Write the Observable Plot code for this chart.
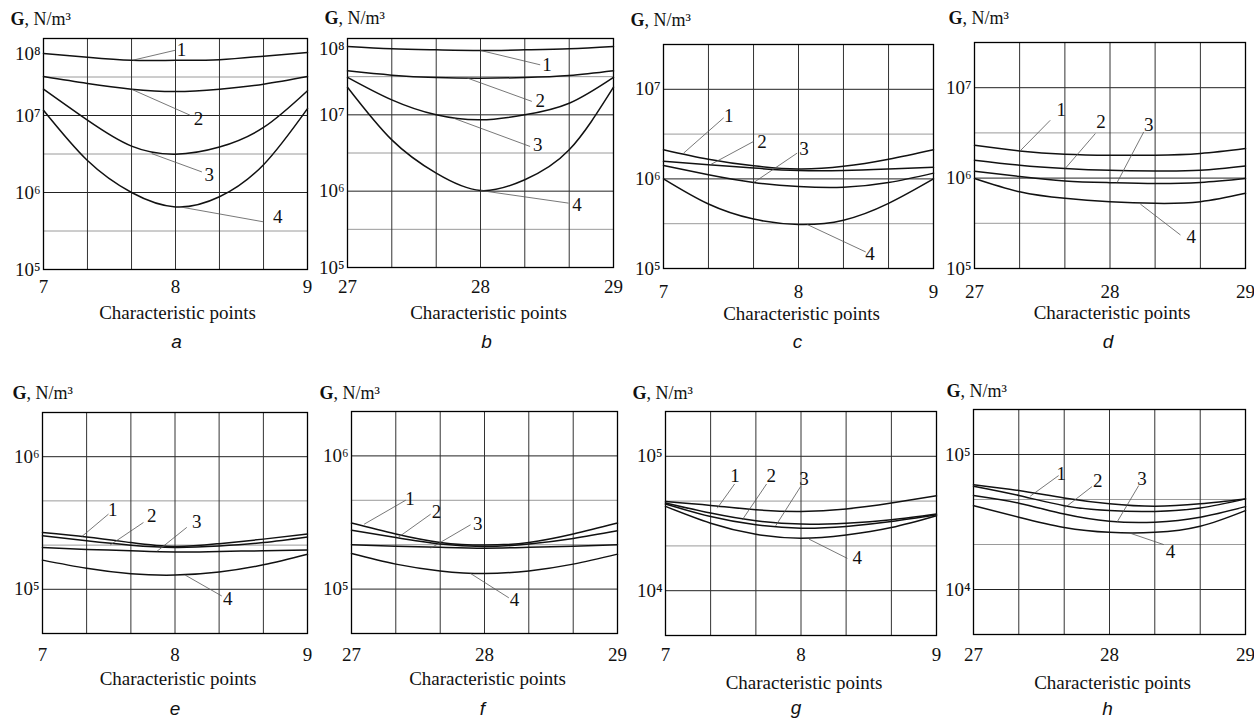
<!DOCTYPE html>
<html>
<head>
<meta charset="utf-8">
<script src="https://cdn.jsdelivr.net/npm/d3@7"></script>
<script src="https://cdn.jsdelivr.net/npm/@observablehq/plot@0.6"></script>
<style>
  html, body { margin: 0; padding: 0; background: #fff; }
  #chart { position: relative; width: 1254px; height: 723px; overflow: hidden; background: #fff; }
  #chart svg { position: absolute; }
</style>
</head>
<body>
<div id="chart"></div>
<script>
// ---------- data ----------
const xPointsLow  = [7, 7.333, 7.667, 8, 8.333, 8.667, 9];
const xPointsHigh = [27, 27.333, 27.667, 28, 28.333, 28.667, 29];
const xTicksLow  = [7, 8, 9];
const xTicksHigh = [27, 28, 29];
const seriesLabels = ["1", "2", "3", "4"];
const panelLetters = ["a", "b", "c", "d", "e", "f", "g", "h"];
const xAxisTitle = "Characteristic points";
const yAxisTitle = ["G", ", N/m³"];

// G values (N/m³) for curves 1..4 at the characteristic points
const G_a = [
  [6.4e7, 5.7e7, 5.2e7, 5.2e7, 5.3e7, 5.9e7, 6.6e7],
  [3.2e7, 2.6e7, 2.2e7, 2.05e7, 2.2e7, 2.55e7, 3.2e7],
  [2.2e7, 8.7e6, 4.0e6, 3.15e6, 3.9e6, 7.0e6, 2.1e7],
  [1.17e7, 2.6e6, 1.0e6, 6.5e5, 8.8e5, 2.3e6, 1.23e7]
];
const G_b = [
  [7.85e7, 7.33e7, 7.1e7, 6.97e7, 7.1e7, 7.33e7, 7.85e7],
  [3.77e7, 3.31e7, 3.08e7, 3.02e7, 3.08e7, 3.27e7, 3.77e7],
  [3.1e7, 1.57e7, 1.0e7, 8.6e6, 1.0e7, 1.42e7, 3.1e7],
  [2.3e7, 4.7e6, 1.72e6, 1.02e6, 1.41e6, 3.48e6, 2.3e7]
];
const G_c = [
  [2.12e6, 1.66e6, 1.40e6, 1.29e6, 1.38e6, 1.66e6, 2.12e6],
  [1.57e6, 1.44e6, 1.32e6, 1.24e6, 1.24e6, 1.29e6, 1.35e6],
  [1.41e6, 1.11e6, 9.1e5, 8.2e5, 8.05e5, 9.1e5, 1.16e6],
  [1.0e6, 5.24e5, 3.56e5, 3.1e5, 3.46e5, 5.33e5, 1.0e6]
];
const G_d = [
  [2.31e6, 2.0e6, 1.84e6, 1.79e6, 1.79e6, 1.87e6, 2.12e6],
  [1.58e6, 1.39e6, 1.28e6, 1.22e6, 1.20e6, 1.22e6, 1.36e6],
  [1.19e6, 1.04e6, 9.3e5, 8.9e5, 8.7e5, 8.95e5, 9.9e5],
  [9.9e5, 7.06e5, 5.97e5, 5.48e5, 5.26e5, 5.48e5, 6.78e5]
];
const G_e = [
  [2.68e5, 2.48e5, 2.25e5, 2.10e5, 2.21e5, 2.39e5, 2.61e5],
  [2.53e5, 2.32e5, 2.15e5, 2.07e5, 2.12e5, 2.25e5, 2.48e5],
  [2.07e5, 2.0e5, 1.95e5, 1.91e5, 1.93e5, 1.95e5, 1.98e5],
  [1.66e5, 1.44e5, 1.31e5, 1.28e5, 1.35e5, 1.53e5, 1.84e5]
];
const G_f = [
  [3.13e5, 2.59e5, 2.24e5, 2.14e5, 2.24e5, 2.59e5, 3.13e5],
  [2.77e5, 2.44e5, 2.18e5, 2.09e5, 2.18e5, 2.40e5, 2.74e5],
  [2.15e5, 2.10e5, 2.06e5, 2.03e5, 2.06e5, 2.10e5, 2.15e5],
  [1.85e5, 1.54e5, 1.37e5, 1.31e5, 1.37e5, 1.54e5, 1.83e5]
];
const G_g = [
  [4.61e4, 4.31e4, 4.0e4, 3.89e4, 4.06e4, 4.49e4, 5.08e4],
  [4.49e4, 3.78e4, 3.31e4, 3.13e4, 3.18e4, 3.37e4, 3.72e4],
  [4.41e4, 3.56e4, 3.09e4, 2.92e4, 3.01e4, 3.27e4, 3.67e4],
  [4.24e4, 3.18e4, 2.63e4, 2.46e4, 2.60e4, 2.95e4, 3.61e4]
];
const G_h = [
  [5.98e4, 5.41e4, 4.76e4, 4.31e4, 4.13e4, 4.31e4, 4.69e4],
  [5.82e4, 4.97e4, 4.18e4, 3.84e4, 3.79e4, 4.02e4, 4.69e4],
  [4.97e4, 4.36e4, 3.62e4, 3.20e4, 3.15e4, 3.43e4, 4.11e4],
  [4.18e4, 3.43e4, 2.88e4, 2.65e4, 2.65e4, 2.94e4, 3.84e4]
];

// curve-number callouts: [x on curve, G on curve, x at end, G at end, x of number, G of number]
const L_a = [
  [7.68, 5.24e7, 8.0, 7.05e7, 8.045, 7.05e7],
  [7.67, 2.18e7, 8.11, 1.01e7, 8.175, 9.1e6],
  [7.82, 3.2e6, 8.2, 1.85e6, 8.255, 1.68e6],
  [8.035, 6.5e5, 8.667, 4.16e5, 8.775, 4.83e5]
];
const L_b = [
  [28.0, 6.97e7, 28.449, 4.52e7, 28.5, 4.52e7],
  [27.897, 3.05e7, 28.386, 1.5e7, 28.45, 1.54e7],
  [27.797, 9.04e6, 28.373, 3.85e6, 28.43, 4.05e6],
  [28.0, 1.02e6, 28.662, 6.97e5, 28.725, 6.62e5]
];
const L_c = [
  [7.149, 1.94e6, 7.446, 4.81e6, 7.483, 5.1e6],
  [7.347, 1.44e6, 7.668, 2.62e6, 7.73, 2.62e6],
  [7.668, 9.1e5, 7.99, 1.94e6, 8.04, 2.15e6],
  [8.064, 3.1e5, 8.498, 1.53e5, 8.53, 1.46e5]
];
const L_d = [
  [27.337, 2.0e6, 27.559, 4.36e6, 27.64, 5.62e6],
  [27.67, 1.28e6, 27.892, 3.11e6, 27.933, 4.18e6],
  [28.052, 8.9e5, 28.249, 3.24e6, 28.286, 3.85e6],
  [28.224, 5.16e5, 28.52, 2.35e5, 28.599, 2.25e5]
];
const L_e = [
  [7.297, 2.5e5, 7.498, 3.69e5, 7.531, 3.98e5],
  [7.511, 2.16e5, 7.762, 3.19e5, 7.825, 3.58e5],
  [7.863, 1.93e5, 8.089, 2.93e5, 8.165, 3.25e5],
  [8.077, 1.28e5, 8.353, 8.9e4, 8.399, 8.4e4]
];
const L_f = [
  [27.095, 3.07e5, 27.408, 4.65e5, 27.44, 4.73e5],
  [27.35, 2.44e5, 27.595, 3.65e5, 27.64, 3.83e5],
  [27.595, 2.03e5, 27.895, 3.04e5, 27.95, 3.11e5],
  [27.895, 1.31e5, 28.183, 8.6e4, 28.225, 8.3e4]
];
const L_g = [
  [7.382, 4.11e4, 7.51, 6.22e4, 7.512, 7.1e4],
  [7.567, 3.37e4, 7.746, 6.22e4, 7.781, 7.1e4],
  [7.813, 3.04e4, 7.998, 5.97e4, 8.022, 6.81e4],
  [8.059, 2.42e4, 8.342, 1.74e4, 8.416, 1.74e4]
];
const L_h = [
  [27.417, 4.91e4, 27.626, 6.98e4, 27.645, 7.18e4],
  [27.675, 4.06e4, 27.871, 5.78e4, 27.913, 6.41e4],
  [28.055, 3.15e4, 28.215, 5.89e4, 28.239, 6.59e4],
  [28.153, 2.61e4, 28.399, 2.15e4, 28.448, 1.91e4]
];

// axis ranges and grid (tick) values
const yDomainTop = [1e5, 1e8];
const yDomainMid = [1e5, 3.162e7];
const yDomainE = [4.642e4, 2.154e6];
const yDomainG = [4.642e3, 2.154e5];
const majorTop = [1e6, 1e7], minorTop = [3.162e5, 3.162e6, 3.162e7];
const majorMid = [1e6, 1e7], minorMid = [3.162e5, 3.162e6];
const majorE = [1e5, 1e6], minorE = [2.154e5, 4.642e5];
const majorG = [1e4, 1e5], minorG = [2.154e4, 4.642e4];
const yLabelsTop = [1e5, 1e6, 1e7], yLabelsMid = [1e5, 1e6, 1e7];
const yLabelsE = [1e5, 1e6], yLabelsG = [1e4, 1e5];
const xGridLow = [7.333, 7.667, 8, 8.333, 8.667];
const xGridHigh = [27.333, 27.667, 28, 28.333, 28.667];

// ---------- panel assembly ----------
const panels = [
  {G: G_a, L: L_a, x: xPointsLow,  xt: xTicksLow,  xg: xGridLow,  yd: yDomainTop, maj: majorTop, min: minorTop, yl: yLabelsTop, top: 1e8},
  {G: G_b, L: L_b, x: xPointsHigh, xt: xTicksHigh, xg: xGridHigh, yd: yDomainTop, maj: majorTop, min: minorTop, yl: yLabelsTop, top: 1e8},
  {G: G_c, L: L_c, x: xPointsLow,  xt: xTicksLow,  xg: xGridLow,  yd: yDomainMid, maj: majorMid, min: minorMid, yl: yLabelsMid},
  {G: G_d, L: L_d, x: xPointsHigh, xt: xTicksHigh, xg: xGridHigh, yd: yDomainMid, maj: majorMid, min: minorMid, yl: yLabelsMid},
  {G: G_e, L: L_e, x: xPointsLow,  xt: xTicksLow,  xg: xGridLow,  yd: yDomainE, maj: majorE, min: minorE, yl: yLabelsE},
  {G: G_f, L: L_f, x: xPointsHigh, xt: xTicksHigh, xg: xGridHigh, yd: yDomainE, maj: majorE, min: minorE, yl: yLabelsE},
  {G: G_g, L: L_g, x: xPointsLow,  xt: xTicksLow,  xg: xGridLow,  yd: yDomainG, maj: majorG, min: minorG, yl: yLabelsG},
  {G: G_h, L: L_h, x: xPointsHigh, xt: xTicksHigh, xg: xGridHigh, yd: yDomainG, maj: majorG, min: minorG, yl: yLabelsG}
];

// layout (page pixels): frame [left, top, right, bottom] and text offsets
const layouts = [
  {frame: [43, 38, 307, 269],   tickC: 16.5, labDy: 43, labDx: 2, letDy: 72, letDx: 1,  gDx: -33, gDy: -19, topDy: 15},
  {frame: [347, 38, 613, 267],  tickC: 18,   labDy: 45, labDx: 8, letDy: 74, letDx: 6,  gDx: -23, gDy: -20, topDy: 10},
  {frame: [663, 44, 933, 268],  tickC: 22,   labDy: 45, labDx: 3, letDy: 73, letDx: -1, gDx: -33, gDy: -24},
  {frame: [974, 42, 1245, 268], tickC: 22,   labDy: 44, labDx: 2, letDy: 73, letDx: -2, gDx: -26, gDy: -24},
  {frame: [42, 412, 307, 633],  tickC: 20,   labDy: 45, labDx: 3, letDy: 75, letDx: 0,  gDx: -30, gDy: -19},
  {frame: [351, 411, 617, 633], tickC: 20,   labDy: 45, labDx: 3, letDy: 75, letDx: -2, gDx: -32, gDy: -18},
  {frame: [665, 411, 936, 635], tickC: 18,   labDy: 47, labDx: 3, letDy: 72, letDx: -5, gDx: -33, gDy: -18},
  {frame: [973, 409, 1245, 634],tickC: 19,   labDy: 48, labDx: 3, letDy: 74, letDx: -2, gDx: -27, gDy: -18}
];

const supDigits = {"0":"⁰","1":"¹","2":"²","3":"³","4":"⁴","5":"⁵","6":"⁶","7":"⁷","8":"⁸","9":"⁹"};
const pow10 = d => "10" + String(Math.round(Math.log10(d))).split("").map(c => supDigits[c]).join("");

const serif = "'Liberation Serif', 'Times New Roman', 'DejaVu Serif', serif";
const root = document.getElementById("chart");

panels.forEach((p, k) => {
  const lay = layouts[k];
  const [fl, ft, fr, fb] = lay.frame;
  const W = fr - fl, H = fb - ft;
  const mL = 50, mR = 15, mT = 40, mB = 90;

  const rows = p.G.flatMap((vals, i) => vals.map((v, j) => ({x: p.x[j], G: v, s: seriesLabels[i]})));
  const callouts = p.L.map((d, i) => ({s: seriesLabels[i], x0: d[0], y0: d[1], x1: d[2], y1: d[3], tx: d[4], ty: d[5]}));

  const marks = [
    Plot.ruleY(p.min, {y: d => d, stroke: "#9a9a9a", strokeWidth: 1}),
    Plot.ruleY(p.maj, {y: d => d, stroke: "#222", strokeWidth: 1}),
    Plot.ruleX(p.xg, {x: d => d, stroke: "#333", strokeWidth: 1}),
    Plot.frame({stroke: "#000", strokeWidth: 1.3}),
    Plot.line(rows, {x: "x", y: "G", z: "s", curve: "natural", stroke: "#111", strokeWidth: 1.5}),
    Plot.link(callouts, {x1: "x0", y1: "y0", x2: "x1", y2: "y1", stroke: "#555", strokeWidth: 0.8}),
    Plot.text(callouts, {x: "tx", y: "ty", text: "s", fontSize: 19, fill: "#111", textAnchor: "middle"}),
    Plot.axisX({ticks: p.xt, tickSize: 0, tickPadding: lay.tickC - 6.5, tickFormat: d => String(d), label: null, fontSize: 19, fill: "#111"}),
    Plot.axisY({ticks: p.yl, tickSize: 0, tickPadding: 3, tickFormat: pow10, label: null, fontSize: 19, fill: "#111"}),
    Plot.text([xAxisTitle], {text: d => d, frameAnchor: "bottom", lineAnchor: "middle", dy: lay.labDy, dx: lay.labDx, fontSize: 19, fill: "#111"}),
    Plot.text([panelLetters[k]], {text: d => d, frameAnchor: "bottom", lineAnchor: "middle", dy: lay.letDy, dx: lay.letDx, fontSize: 19,
      fontStyle: "italic", fontFamily: "'Liberation Sans', 'DejaVu Sans', sans-serif", fill: "#111"}),
    Plot.text([yAxisTitle[0]], {text: d => d, frameAnchor: "top-left", lineAnchor: "middle", dx: lay.gDx, dy: lay.gDy, textAnchor: "start",
      fontWeight: "bold", fontSize: 18, fill: "#111"}),
    Plot.text([yAxisTitle[1]], {text: d => d, frameAnchor: "top-left", lineAnchor: "middle", dx: lay.gDx + 14, dy: lay.gDy, textAnchor: "start",
      fontSize: 18, fill: "#111"})
  ];
  if (p.top !== undefined) {
    marks.push(Plot.text([p.top], {y: d => d, text: pow10, frameAnchor: "left", dx: -3, dy: lay.topDy,
      textAnchor: "end", fontSize: 19, fill: "#111"}));
  }

  const svg = Plot.plot({
    width: W + mL + mR,
    height: H + mT + mB,
    marginLeft: mL, marginRight: mR, marginTop: mT, marginBottom: mB,
    style: {background: "transparent", overflow: "visible", maxWidth: "none", fontFamily: serif, fontSize: "19px", color: "#111"},
    x: {domain: [p.x[0], p.x[p.x.length - 1]]},
    y: {type: "log", domain: p.yd},
    marks
  });
  svg.style.left = (fl - mL) + "px";
  svg.style.top = (ft - mT) + "px";
  root.appendChild(svg);
});
</script>
</body>
</html>
